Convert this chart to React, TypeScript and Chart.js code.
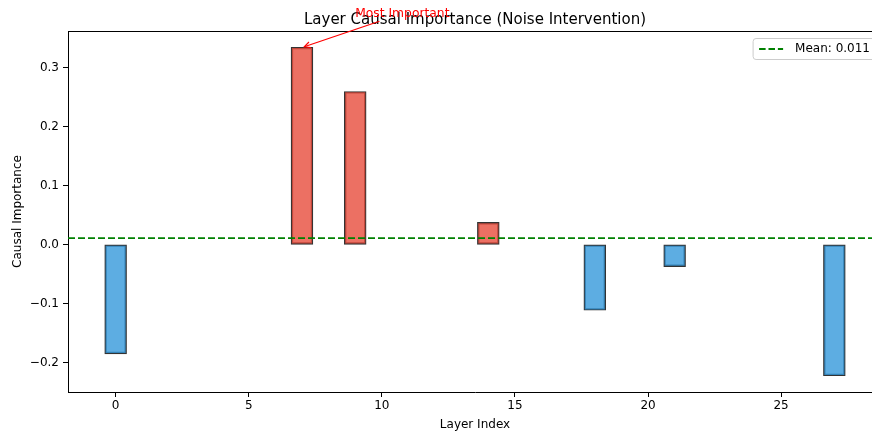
import React, { useEffect, useRef } from 'react';
import { Chart, registerables } from 'chart.js';

Chart.register(...registerables);

// ---- data ----
const layers = [0, 7, 9, 14, 18, 21, 27];
const importance = [-0.185, 0.334, 0.259, 0.037, -0.111, -0.037, -0.222];
const meanImportance = 0.011;

const xTicks = [0, 5, 10, 15, 20, 25];
const xTickLabels = ['0', '5', '10', '15', '20', '25'];
const yTicks = [-0.2, -0.1, 0, 0.1, 0.2, 0.3];
const yTickLabels = ['\u22120.2', '\u22120.1', '0.0', '0.1', '0.2', '0.3'];
const xRange = [-1.79, 28.79];
const yRange = [-0.25, 0.362];

const titleText = 'Layer Causal Importance (Noise Intervention)';
const xLabel = 'Layer Index';
const yLabel = 'Causal Importance';
const annotationText = 'Most Important';
const annotationTextPos = [9, 0.385];
const meanLabel = `Mean: ${meanImportance.toFixed(3)}`;

// ---- styles ----
const FONT = "'DejaVu Sans', sans-serif";
const RED = 'rgba(231, 76, 60, 0.8)';
const BLUE = 'rgba(52, 152, 219, 0.8)';
const EDGE = 'rgba(0, 0, 0, 0.8)';
const GREEN = '#008000';
const DASH = [7, 3];

const overlayPlugin = {
  id: 'overlay',
  afterDraw(chart: any) {
    const { ctx, chartArea } = chart;
    const xs = chart.scales.x;
    const ys = chart.scales.y;
    ctx.save();

    // top spine
    ctx.strokeStyle = '#000';
    ctx.lineWidth = 1;
    ctx.beginPath();
    const ty = Math.round(chartArea.top) + 0.5;
    ctx.moveTo(chartArea.left, ty);
    ctx.lineTo(chartArea.right, ty);
    ctx.stroke();

    // title
    ctx.fillStyle = '#000';
    ctx.font = `15px ${FONT}`;
    ctx.textAlign = 'center';
    ctx.textBaseline = 'alphabetic';
    ctx.fillText(titleText, (chartArea.left + chartArea.right) / 2, 24);

    // annotation
    const maxIdx = importance.indexOf(Math.max(...importance));
    const tipX = xs.getPixelForValue(layers[maxIdx]);
    const tipY = ys.getPixelForValue(importance[maxIdx]);
    const tx = xs.getPixelForValue(annotationTextPos[0]);
    const tyb = ys.getPixelForValue(annotationTextPos[1]);
    ctx.font = `12.3px ${FONT}`;
    ctx.textAlign = 'left';
    ctx.textBaseline = 'alphabetic';
    const tw = ctx.measureText(annotationText).width;
    const bTop = tyb - 11;
    const bBot = tyb + 3;
    const cx = tx + tw / 2;
    const cy = (bTop + bBot) / 2;
    const dx = tipX - cx;
    const dy = tipY - cy;
    let t = 1;
    if (dy !== 0) t = Math.min(t, Math.abs((dy > 0 ? bBot - cy : bTop - cy) / dy));
    if (dx !== 0) t = Math.min(t, Math.abs((dx > 0 ? tx + tw - cx : tx - cx) / dx));
    const len = Math.hypot(dx, dy);
    const ux = dx / len;
    const uy = dy / len;
    const shrink = 2.4;
    const sx = cx + dx * t + ux * shrink;
    const sy = cy + dy * t + uy * shrink;
    const ex = tipX - ux * shrink;
    const ey = tipY - uy * shrink;
    ctx.strokeStyle = 'red';
    ctx.lineWidth = 1.2;
    ctx.beginPath();
    ctx.moveTo(sx, sy);
    ctx.lineTo(ex, ey);
    ctx.stroke();
    const hl = 6;
    const hw = 3;
    const px = -uy;
    const py = ux;
    ctx.beginPath();
    ctx.moveTo(ex - ux * hl + px * hw, ey - uy * hl + py * hw);
    ctx.lineTo(ex, ey);
    ctx.lineTo(ex - ux * hl - px * hw, ey - uy * hl - py * hw);
    ctx.stroke();
    ctx.fillStyle = 'red';
    ctx.fillText(annotationText, tx, tyb);

    // legend
    ctx.font = `12px ${FONT}`;
    const lw = ctx.measureText(meanLabel).width;
    const pad = 6;
    const handle = 24;
    const gap = 12;
    const boxW = pad + handle + gap + lw + pad;
    const boxH = 21;
    const boxRight = chartArea.right - 6;
    const boxLeft = boxRight - boxW;
    const boxTop = chartArea.top + 7.5;
    ctx.beginPath();
    const r = 3;
    ctx.moveTo(boxLeft + r, boxTop);
    ctx.lineTo(boxLeft + boxW - r, boxTop);
    ctx.arcTo(boxLeft + boxW, boxTop, boxLeft + boxW, boxTop + r, r);
    ctx.lineTo(boxLeft + boxW, boxTop + boxH - r);
    ctx.arcTo(boxLeft + boxW, boxTop + boxH, boxLeft + boxW - r, boxTop + boxH, r);
    ctx.lineTo(boxLeft + r, boxTop + boxH);
    ctx.arcTo(boxLeft, boxTop + boxH, boxLeft, boxTop + boxH - r, r);
    ctx.lineTo(boxLeft, boxTop + r);
    ctx.arcTo(boxLeft, boxTop, boxLeft + r, boxTop, r);
    ctx.closePath();
    ctx.fillStyle = 'rgba(255,255,255,0.8)';
    ctx.fill();
    ctx.strokeStyle = '#cccccc';
    ctx.lineWidth = 1;
    ctx.stroke();
    const midY = boxTop + boxH / 2;
    ctx.strokeStyle = GREEN;
    ctx.lineWidth = 1.8;
    ctx.setLineDash([6.5, 2.9]);
    ctx.beginPath();
    ctx.moveTo(boxLeft + pad, midY);
    ctx.lineTo(boxLeft + pad + handle, midY);
    ctx.stroke();
    ctx.setLineDash([]);
    ctx.fillStyle = '#000';
    ctx.textBaseline = 'middle';
    ctx.fillText(meanLabel, boxLeft + pad + handle + gap, midY);

    ctx.restore();
  },
};

export default function App() {
  const ref = useRef<HTMLCanvasElement>(null);

  useEffect(() => {
    const canvas = ref.current;
    if (!canvas) return;
    const chart = new Chart(canvas, {
      type: 'bar',
      data: {
        datasets: [
          {
            type: 'line',
            label: meanLabel,
            data: [
              { x: xRange[0], y: meanImportance },
              { x: xRange[1], y: meanImportance },
            ],
            borderColor: GREEN,
            borderWidth: 1.8,
            borderDash: DASH,
            pointRadius: 0,
            fill: false,
            order: 1,
          },
          {
            type: 'bar',
            label: 'Causal Importance',
            data: layers.map((l, i) => ({ x: l, y: importance[i] })),
            backgroundColor: importance.map((v) => (v > 0 ? RED : BLUE)),
            borderColor: EDGE,
            borderWidth: 1.2,
            borderSkipped: false,
            inflateAmount: 0.6,
            categoryPercentage: 1,
            barPercentage: 0.4,
            order: 2,
          },
        ],
      } as any,
      options: {
        responsive: false,
        animation: false,
        devicePixelRatio: 1,
        events: [],
        layout: { padding: { top: 31, left: 0, right: 0, bottom: 0 } },
        plugins: {
          legend: { display: false },
          title: { display: false },
          tooltip: { enabled: false },
        },
        scales: {
          x: {
            type: 'linear',
            min: xRange[0],
            max: xRange[1],
            offset: false,
            grid: {
              display: true,
              drawOnChartArea: false,
              drawTicks: true,
              tickLength: 5,
              tickColor: '#000',
              offset: false,
            },
            border: { display: true, color: '#000', width: 1 },
            afterBuildTicks: (s: any) => {
              s.ticks = xTicks.map((v) => ({ value: v }));
            },
            afterFit: (s: any) => {
              s.height = 41;
            },
            ticks: {
              color: '#000',
              font: { family: FONT, size: 12 },
              padding: 2,
              maxRotation: 0,
              autoSkip: false,
              callback: (_v: any, i: number) => xTickLabels[i],
            },
            title: {
              display: true,
              text: xLabel,
              color: '#000',
              font: { family: FONT, size: 12 },
              padding: { top: 0, bottom: 1 },
            },
          },
          y: {
            type: 'linear',
            min: yRange[0],
            max: yRange[1],
            grid: {
              display: true,
              drawOnChartArea: false,
              drawTicks: true,
              tickLength: 5,
              tickColor: '#000',
            },
            border: { display: true, color: '#000', width: 1 },
            afterBuildTicks: (s: any) => {
              s.ticks = yTicks.map((v) => ({ value: v }));
            },
            afterFit: (s: any) => {
              s.width = 68;
            },
            ticks: {
              color: '#000',
              font: { family: FONT, size: 12 },
              padding: 4,
              autoSkip: false,
              callback: (_v: any, i: number) => yTickLabels[i],
            },
            title: {
              display: true,
              text: yLabel,
              color: '#000',
              font: { family: FONT, size: 12 },
              padding: { top: 11, bottom: 0 },
            },
          },
        },
      } as any,
      plugins: [overlayPlugin],
    });
    return () => chart.destroy();
  }, []);

  return (
    <div
      style={{
        position: 'fixed',
        left: 0,
        top: 0,
        width: 872,
        height: 433,
        overflow: 'hidden',
        background: '#fff',
      }}
    >
      <canvas ref={ref} width={882} height={433} style={{ display: 'block' }} />
    </div>
  );
}
